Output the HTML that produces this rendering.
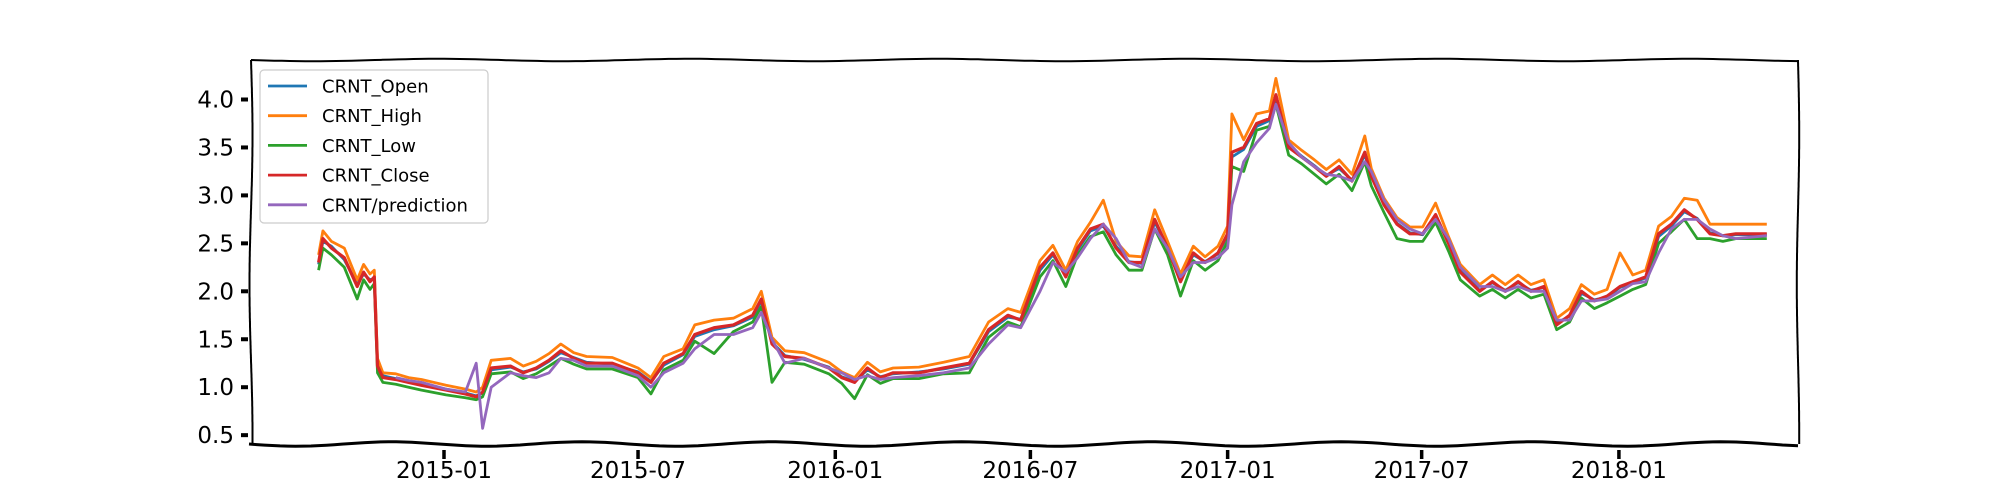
<!DOCTYPE html>
<html><head><meta charset="utf-8"><style>
html,body{margin:0;padding:0;background:#fff;}
svg{display:block;font-family:"DejaVu Sans","Liberation Sans",sans-serif;}
</style></head>
<body>
<svg id="chart" width="2000" height="500" viewBox="0 0 2000 500" xmlns="http://www.w3.org/2000/svg"></svg>
<script>
const dates = ["2014-09-06","2014-09-10","2014-09-18","2014-09-30","2014-10-12","2014-10-18","2014-10-24","2014-10-28","2014-10-31","2014-11-05",
"2014-11-17","2014-11-29","2014-12-11","2015-01-03","2015-01-21","2015-01-31","2015-02-06","2015-02-14","2015-03-04","2015-03-16",
"2015-03-28","2015-04-09","2015-04-20","2015-05-02","2015-05-14","2015-06-07","2015-07-01","2015-07-13","2015-07-25","2015-08-12",
"2015-08-23","2015-09-10","2015-09-28","2015-10-16","2015-10-24","2015-11-03","2015-11-15","2015-12-03","2015-12-26","2016-01-07",
"2016-01-19","2016-01-31","2016-02-12","2016-02-24","2016-03-19","2016-04-11","2016-05-05","2016-05-23","2016-06-10","2016-06-22",
"2016-07-10","2016-07-22","2016-08-03","2016-08-14","2016-08-26","2016-09-07","2016-09-19","2016-10-01","2016-10-13","2016-10-25",
"2016-11-06","2016-11-18","2016-11-30","2016-12-11","2016-12-23","2017-01-01","2017-01-05","2017-01-16","2017-01-28","2017-02-09",
"2017-02-15","2017-02-27","2017-03-11","2017-03-23","2017-04-03","2017-04-15","2017-04-27","2017-05-09","2017-05-15","2017-05-27",
"2017-06-08","2017-06-20","2017-07-02","2017-07-14","2017-07-26","2017-08-06","2017-08-24","2017-09-05","2017-09-17","2017-09-29",
"2017-10-11","2017-10-23","2017-11-04","2017-11-16","2017-11-27","2017-12-09","2017-12-21","2018-01-02","2018-01-14","2018-01-26",
"2018-02-07","2018-02-19","2018-03-03","2018-03-15","2018-03-27","2018-04-08","2018-04-20","2018-05-19"];
const closeVals = [2.30,2.55,2.45,2.35,2.05,2.20,2.10,2.15,1.22,1.10,
1.08,1.05,1.02,0.97,0.93,0.90,0.95,1.20,1.22,1.15,
1.20,1.28,1.38,1.30,1.25,1.25,1.15,1.05,1.25,1.35,
1.55,1.62,1.65,1.75,1.92,1.45,1.32,1.30,1.20,1.10,
1.05,1.20,1.10,1.15,1.15,1.20,1.25,1.60,1.75,1.70,
2.25,2.40,2.15,2.45,2.65,2.70,2.45,2.30,2.30,2.75,
2.45,2.10,2.40,2.30,2.40,2.60,3.45,3.50,3.75,3.80,
4.05,3.50,3.40,3.30,3.20,3.30,3.15,3.45,3.20,2.90,
2.70,2.60,2.60,2.80,2.50,2.20,2.00,2.10,2.00,2.10,
2.00,2.05,1.65,1.75,2.00,1.90,1.95,2.05,2.10,2.15,
2.60,2.70,2.85,2.75,2.60,2.58,2.60,2.60];
const openVals = [2.28,2.52,2.47,2.33,2.07,2.18,2.12,2.13,1.25,1.12,
1.09,1.06,1.03,0.98,0.94,0.91,0.94,1.18,1.21,1.16,
1.19,1.27,1.36,1.31,1.26,1.24,1.16,1.06,1.23,1.34,
1.53,1.60,1.64,1.73,1.90,1.47,1.33,1.29,1.21,1.11,
1.06,1.18,1.11,1.14,1.16,1.19,1.24,1.58,1.73,1.71,
2.22,2.38,2.17,2.43,2.63,2.68,2.47,2.31,2.29,2.72,
2.47,2.12,2.38,2.31,2.39,2.58,3.40,3.48,3.72,3.78,
4.00,3.52,3.41,3.31,3.21,3.28,3.16,3.42,3.22,2.92,
2.71,2.61,2.59,2.78,2.52,2.22,2.01,2.09,2.01,2.09,
2.01,2.04,1.67,1.74,1.98,1.91,1.94,2.04,2.09,2.14,
2.57,2.68,2.83,2.76,2.61,2.58,2.59,2.59];
const highVals = [2.38,2.63,2.52,2.45,2.12,2.28,2.18,2.22,1.30,1.15,
1.14,1.10,1.08,1.02,0.98,0.95,1.00,1.28,1.30,1.22,
1.27,1.35,1.45,1.36,1.32,1.31,1.20,1.10,1.32,1.40,
1.65,1.70,1.72,1.82,2.00,1.52,1.38,1.36,1.26,1.16,
1.10,1.26,1.16,1.20,1.21,1.26,1.32,1.68,1.82,1.78,
2.32,2.48,2.22,2.52,2.72,2.95,2.52,2.37,2.36,2.85,
2.52,2.18,2.47,2.36,2.47,2.68,3.85,3.58,3.85,3.88,
4.22,3.58,3.47,3.37,3.27,3.37,3.22,3.62,3.28,2.97,
2.77,2.67,2.67,2.92,2.57,2.28,2.07,2.17,2.07,2.17,
2.07,2.12,1.72,1.82,2.07,1.97,2.02,2.40,2.17,2.22,
2.68,2.78,2.97,2.95,2.70,2.70,2.70,2.70];
const lowVals = [2.22,2.45,2.38,2.25,1.92,2.12,2.02,2.08,1.15,1.05,
1.03,1.00,0.97,0.92,0.89,0.87,0.90,1.14,1.16,1.09,
1.14,1.22,1.30,1.24,1.19,1.19,1.10,0.93,1.18,1.28,
1.48,1.35,1.58,1.68,1.84,1.05,1.26,1.24,1.14,1.04,
0.88,1.13,1.04,1.09,1.09,1.14,1.15,1.52,1.68,1.63,
2.15,2.32,2.05,2.38,2.57,2.62,2.38,2.22,2.22,2.65,
2.38,1.95,2.32,2.22,2.32,2.52,3.30,3.25,3.68,3.72,
3.95,3.42,3.33,3.22,3.12,3.22,3.05,3.35,3.10,2.82,
2.55,2.52,2.52,2.72,2.42,2.12,1.95,2.02,1.93,2.02,
1.93,1.97,1.60,1.68,1.93,1.82,1.88,1.95,2.02,2.07,
2.50,2.62,2.75,2.55,2.55,2.52,2.55,2.55];
const predVals = [null,null,null,null,null,null,null,null,null,null,
1.10,1.07,1.05,0.98,0.95,1.25,0.57,1.00,1.15,1.12,
1.10,1.15,1.30,1.28,1.22,1.22,1.12,1.00,1.15,1.25,
1.40,1.55,1.55,1.62,1.78,1.50,1.25,1.30,1.20,1.15,
1.08,1.12,1.08,1.10,1.12,1.15,1.20,1.45,1.65,1.62,
2.00,2.30,2.20,2.35,2.55,2.70,2.55,2.30,2.25,2.65,
2.45,2.15,2.30,2.30,2.35,2.45,2.90,3.35,3.55,3.70,
3.95,3.55,3.40,3.30,3.22,3.20,3.15,3.35,3.25,2.95,
2.75,2.65,2.60,2.75,2.55,2.25,2.05,2.05,2.00,2.05,
2.00,2.00,1.70,1.70,1.90,1.90,1.92,2.00,2.08,2.10,
2.40,2.65,2.75,2.75,2.65,2.58,2.55,2.58];
const yTicks = [0.5,1.0,1.5,2.0,2.5,3.0,3.5,4.0];
const xTicks = ["2015-01","2015-07","2016-01","2016-07","2017-01","2017-07","2018-01"];
const seriesNames = ["CRNT_Open","CRNT_High","CRNT_Low","CRNT_Close","CRNT/prediction"];
const seriesColors = ["#1f77b4","#ff7f0e","#2ca02c","#d62728","#9467bd"];

const NS = "http://www.w3.org/2000/svg";
const svg = document.getElementById("chart");
const L = 251, R = 1798, T = 60, B = 444;
const epoch = Date.UTC(2015,0,1);
function xScale(d){ const p = d.split("-").map(Number); const t = Date.UTC(p[0],p[1]-1,p[2]||1); return 444 + (t-epoch)/86400000*1.072; }
function yScale(v){ return 99.5 + (4 - v)*95.9; }
function mk(tag, attrs){ const e = document.createElementNS(NS, tag); for (const k in attrs) e.setAttribute(k, attrs[k]); svg.appendChild(e); return e; }

const allSeries = [openVals, highVals, lowVals, closeVals, predVals];
const seriesKeys = ["open-line","high-line","low-line","close-line","prediction-line"];
allSeries.forEach((vals, si) => {
  let d = "", pen = false;
  vals.forEach((v, i) => {
    if (v === null) { pen = false; return; }
    d += (pen ? "L" : "M") + xScale(dates[i]).toFixed(1) + "," + yScale(v).toFixed(1) + " ";
    pen = true;
  });
  const p = mk("path", {d: d, fill: "none", stroke: seriesColors[si], "stroke-width": si === 3 ? 3.2 : 2.8, "stroke-linejoin": "round"});
  
  
});

function wavy(x1, y1, x2, y2, amp, period){
  let d = "M" + x1 + "," + y1; const n = 200;
  for (let i = 1; i <= n; i++){
    const t = i/n; const x = x1 + (x2-x1)*t, y = y1 + (y2-y1)*t;
    const len = Math.hypot(x2-x1, y2-y1) * t;
    const off = amp*Math.sin(len/period*2*Math.PI);
    if (y1 === y2) d += " L" + x.toFixed(1) + "," + (y+off).toFixed(1);
    else d += " L" + (x+off).toFixed(1) + "," + y.toFixed(1);
  }
  return d;
}
const fb = mk("path", {d: wavy(L-2,B,R,B,2.2,190), fill:"none", stroke:"#000", "stroke-width":3});


const ft = mk("path", {d: wavy(L,T,R,T,1.2,250), fill:"none", stroke:"#000", "stroke-width":2});


const fl = mk("path", {d: wavy(L,T,L,B,1.5,300), fill:"none", stroke:"#000", "stroke-width":2});


const fr = mk("path", {d: wavy(R,T,R,B,1.2,300), fill:"none", stroke:"#000", "stroke-width":2});



yTicks.forEach(v => {
  const y = yScale(v);
  const t = mk("line", {x1: L-10, x2: L-3, y1: y, y2: y, stroke:"#000", "stroke-width":4});
  
  
  const lb = mk("text", {x: L-17, y: y+8, "text-anchor":"end", "font-size":23, fill:"#000"});
  lb.textContent = v.toFixed(1);
  
  
});
xTicks.forEach(s => {
  const x = xScale(s);
  const t = mk("line", {x1: x, x2: x, y1: B+6, y2: B+15, stroke:"#000", "stroke-width":3.5});
  
  
  const lb = mk("text", {x: x, y: B+34, "text-anchor":"middle", "font-size":23, fill:"#000"});
  lb.textContent = s;
  
  
});

const lg = mk("rect", {x:260, y:70, width:228, height:153, rx:4, fill:"#fff", "fill-opacity":0.85, stroke:"#cccccc", "stroke-width":1.2});


seriesNames.forEach((n, i) => {
  const y = 86 + i*29.7;
  const ln = mk("line", {x1:268, x2:307, y1:y, y2:y, stroke: seriesColors[i], "stroke-width":2.8});
  
  
  const tx = mk("text", {x:322, y:y+6.5, "font-size":18, fill:"#000"});
  tx.textContent = n;
  
  
});
</script>
</body></html>
